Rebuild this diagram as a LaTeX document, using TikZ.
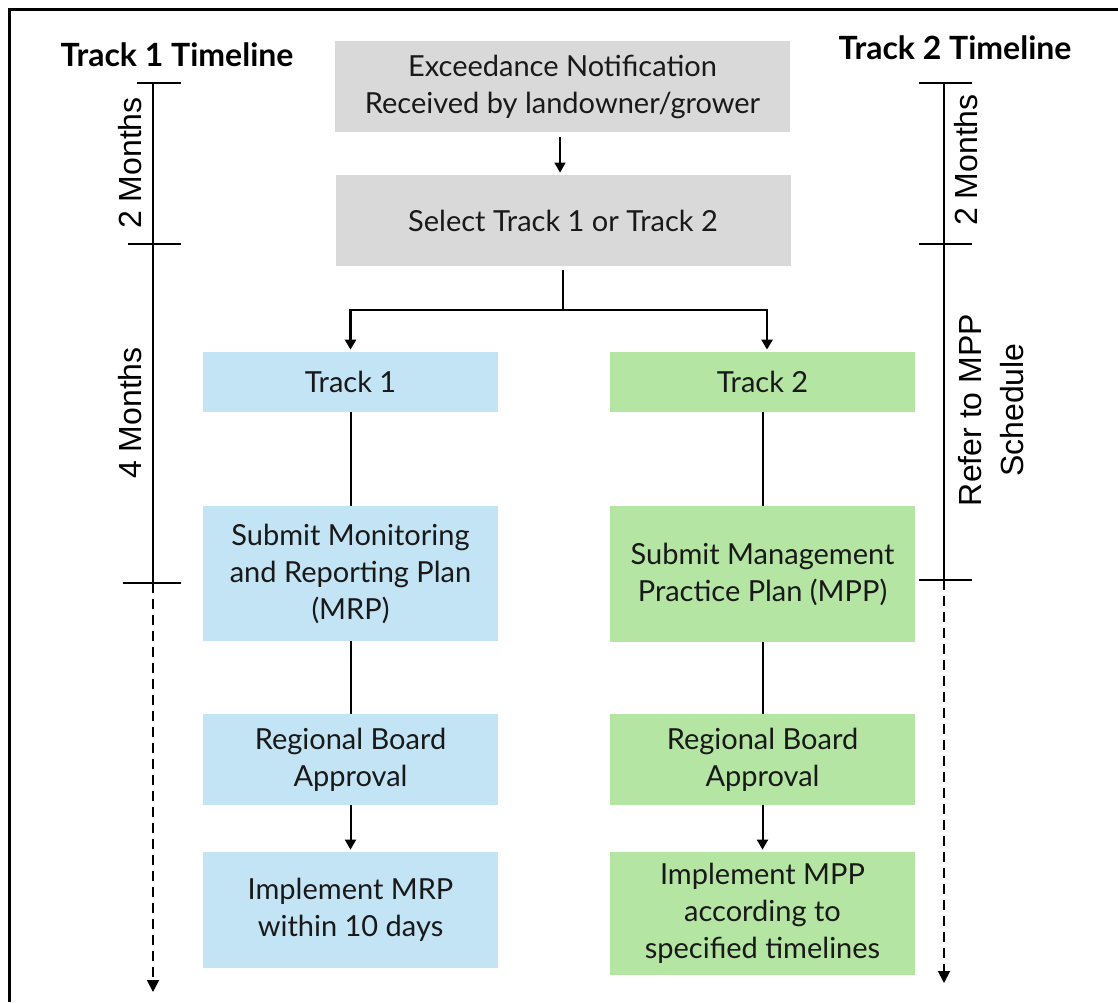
\documentclass[tikz,border=0pt]{standalone}
\usepackage{fontspec}
\setmainfont{Lato}
\newfontfamily\axisfont{Liberation Sans}
\usetikzlibrary{arrows.meta}

\begin{document}
\begin{tikzpicture}[x=0.5pt, y=-0.5pt,
    box/.style={inner sep=0pt, align=center, text=black!90,
      font=\fontsize{14.5}{18.5}\selectfont},
    graybox/.style={box, fill=black!15, minimum width=227.5pt},
    bluebox/.style={box, fill=blue1, minimum width=147.5pt},
    greenbox/.style={box, fill=green1, minimum width=152.5pt},
    title/.style={font=\fontsize{16}{18}\selectfont\bfseries},
    axislabel/.style={font=\axisfont\fontsize{16}{21}\selectfont, align=center, rotate=90},
    tip/.style={-{Triangle[length=5pt,width=5.5pt]}},
    axis/.style={line width=0.75pt},
    dashaxis/.style={line width=0.9pt, dash pattern=on 5pt off 3pt, -{Triangle[length=6pt,width=6pt]}}]
  \definecolor{blue1}{HTML}{C3E4F4}
  \definecolor{green1}{HTML}{B4E5A2}
  \useasboundingbox (0,0) rectangle (1118,1002);
  % frame (cropped)
  \draw[line width=1.5pt] (9,1002) -- (9,9) -- (1118,9);

  % centre column
  \node[graybox, minimum height=45.5pt] (note) at (562.5,86.5)
    {Exceedance Notification\\Received by landowner/grower};
  \node[graybox, minimum height=45.5pt] (sel) at (563,220.5) {Select Track 1 or Track 2};

  % track 1
  \node[bluebox, minimum height=30pt] (t1) at (350.5,382) {Track 1};
  \node[bluebox, minimum height=67.5pt] (mrp) at (350.5,573.5)
    {Submit Monitoring\\and Reporting Plan\\(MRP)};
  \node[bluebox, minimum height=45.5pt] (rb1) at (350.5,759.5) {Regional Board\\Approval};
  \node[bluebox, minimum height=58pt] (im1) at (350.5,910) {Implement MRP\\within 10 days};

  % track 2
  \node[greenbox, minimum height=30pt] (t2) at (762.5,382) {Track 2};
  \node[greenbox, minimum height=68pt] (mpp) at (762.5,574)
    {Submit Management\\Practice Plan (MPP)};
  \node[greenbox, minimum height=45.5pt] (rb2) at (762.5,759.5) {Regional Board\\Approval};
  \node[greenbox, minimum height=61.5pt] (im2) at (762.5,913.5)
    {Implement MPP\\according to\\specified timelines};

  % connectors
  \draw[tip, line width=0.75pt] ([yshift=-2.5pt]note.south -| 560,0) -- ([yshift=1pt]sel.north -| 560,0);
  \coordinate (split) at (563,310);
  \draw[line width=1.4pt] ([yshift=-2pt]sel.south) -- (split);
  \draw[tip, line width=1.4pt] (split) -| ([yshift=1pt]t1.north);
  \draw[tip, line width=1.4pt] (split) -| ([yshift=1pt]t2.north -| 767,0);
  \draw[line width=1pt] (t1) -- (mrp);
  \draw[line width=1pt] (mrp) -- (rb1);
  \draw[tip, line width=1pt] (rb1) -- ([yshift=1pt]im1.north);
  \draw[line width=1pt] (t2) -- (mpp);
  \draw[line width=1pt] (mpp) -- (rb2);
  \draw[tip, line width=1pt] (rb2) -- ([yshift=1pt]im2.north);

  % track 1 timeline
  \node[title] (tl1) at (177,55) {Track 1 Timeline};
  \coordinate (a0) at (153,83);
  \coordinate (a1) at (153,244);
  \coordinate (a2) at (153,583);
  \coordinate (a3) at (153,992);
  \draw[axis] (a0) -- (a2);
  \draw[dashaxis] (a2) -- (a3);
  \draw[axis] ([xshift=-8pt]a0) -- ([xshift=14pt]a0);
  \draw[axis] ([xshift=-12.5pt]a1) -- ([xshift=14pt]a1);
  \draw[axis] ([xshift=-15pt]a2) -- ([xshift=14pt]a2);
  \node[axislabel] (m1) at (130,163) {2 Months};
  \node[axislabel] (m2) at (130,413) {4 Months};

  % track 2 timeline
  \node[title] (tl2) at (955,48) {Track 2 Timeline};
  \coordinate (b0) at (944,83);
  \coordinate (b1) at (944,244);
  \coordinate (b2) at (944,580);
  \coordinate (b3) at (944,983);
  \draw[axis] (b0) -- (b2);
  \draw[dashaxis] (b2) -- (b3);
  \foreach \c in {b0,b1,b2}
    \draw[axis] ([xshift=-12.5pt]\c) -- ([xshift=14pt]\c);
  \node[axislabel] (m3) at (966,160) {2 Months};
  \node[axislabel] (m4) at (991,410) {Refer to MPP\\Schedule};
\end{tikzpicture}
\end{document}
